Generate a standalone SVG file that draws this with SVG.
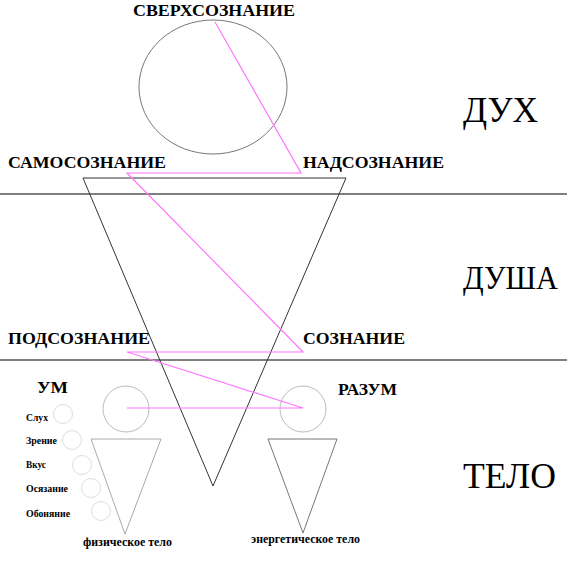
<svg xmlns="http://www.w3.org/2000/svg" width="567" height="567" viewBox="0 0 567 567">
<style>
.b{font-family:"Liberation Serif","Times New Roman",serif;font-weight:bold;fill:#000}
.lbl{font-size:17.5px}
.big{font-family:"Liberation Serif","Times New Roman",serif;font-size:36px;fill:#000}
.sm{font-size:10.5px}
.md{font-size:12px}
.sense{fill:none;stroke:#ddd;stroke-width:1}
</style>
<rect width="567" height="567" fill="#fff"/>
<g id="zones">
<line x1="0" y1="194" x2="567" y2="194" stroke="#000" stroke-width="1"/>
<line x1="0" y1="360" x2="567" y2="360" stroke="#000" stroke-width="1"/>
<text class="big" x="463" y="122" textLength="75" lengthAdjust="spacingAndGlyphs">ДУХ</text>
<text class="big" x="463" y="289" textLength="95" lengthAdjust="spacingAndGlyphs" style="font-size:33px">ДУША</text>
<text class="big" x="463" y="488" textLength="93" lengthAdjust="spacingAndGlyphs">ТЕЛО</text>
</g>
<g id="superconscious">
<ellipse cx="213" cy="87" rx="74" ry="67" fill="none" stroke="#777"/>
<text class="b lbl" x="133" y="16" textLength="162" lengthAdjust="spacingAndGlyphs">СВЕРХСОЗНАНИЕ</text>
</g>
<g id="soul-triangle">
<polygon points="83,178 346,178 213,486" fill="none" stroke="#333"/>
</g>
<g id="labels">
<text class="b lbl" x="8" y="168" textLength="158" lengthAdjust="spacingAndGlyphs">САМОСОЗНАНИЕ</text>
<text class="b lbl" x="303" y="168" textLength="141" lengthAdjust="spacingAndGlyphs">НАДСОЗНАНИЕ</text>
<text class="b lbl" x="8" y="344" textLength="142" lengthAdjust="spacingAndGlyphs">ПОДСОЗНАНИЕ</text>
<text class="b lbl" x="303" y="344" textLength="102" lengthAdjust="spacingAndGlyphs">СОЗНАНИЕ</text>
</g>
<g id="um">
<circle cx="126" cy="409" r="23" fill="none" stroke="#bbb"/>
<polygon points="91,439 161,439 125,534" fill="none" stroke="#aaa"/>
<text class="b lbl" x="37" y="393" textLength="31" lengthAdjust="spacingAndGlyphs">УМ</text>
<text class="b md" x="83" y="546" textLength="89" lengthAdjust="spacingAndGlyphs">физическое тело</text>
</g>
<g id="senses">
<circle class="sense" cx="63" cy="414" r="9.5"/>
<circle class="sense" cx="72" cy="440" r="9.5"/>
<circle class="sense" cx="82" cy="465" r="9.5"/>
<circle class="sense" cx="91" cy="488" r="9.5"/>
<circle class="sense" cx="101" cy="511" r="9.5"/>
<text class="b sm" x="26" y="421" textLength="22" lengthAdjust="spacingAndGlyphs">Слух</text>
<text class="b sm" x="26" y="444" textLength="31" lengthAdjust="spacingAndGlyphs">Зрение</text>
<text class="b sm" x="26" y="468" textLength="20" lengthAdjust="spacingAndGlyphs">Вкус</text>
<text class="b sm" x="26" y="492" textLength="42" lengthAdjust="spacingAndGlyphs">Осязание</text>
<text class="b sm" x="26" y="517" textLength="44" lengthAdjust="spacingAndGlyphs">Обоняние</text>
</g>
<g id="razum">
<circle cx="303" cy="409" r="23" fill="none" stroke="#bbb"/>
<polygon points="268,439 337,439 303,533" fill="none" stroke="#777"/>
<text class="b lbl" x="338" y="395" textLength="59" lengthAdjust="spacingAndGlyphs">РАЗУМ</text>
<text class="b md" x="251" y="543" textLength="109" lengthAdjust="spacingAndGlyphs">энергетическое тело</text>
</g>
<g id="connectors">
<polyline points="215,22 301,173 127,173 303,352 127,352 303,408 127,408" fill="none" stroke="#f7f" stroke-width="1.2"/>
</g>
</svg>
